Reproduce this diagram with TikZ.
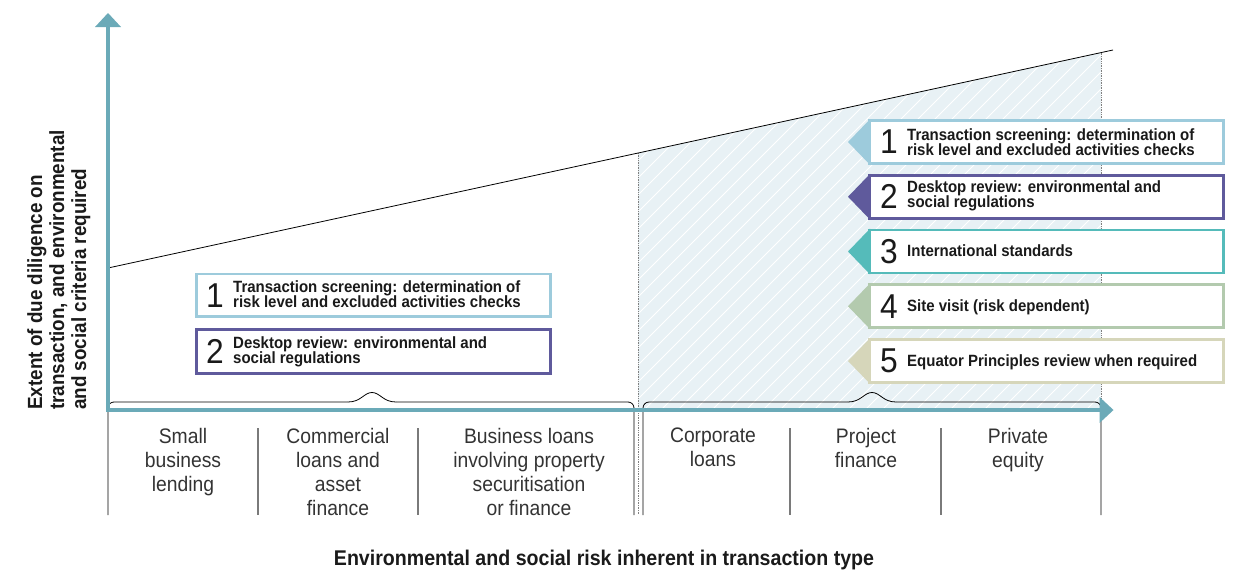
\documentclass[tikz,border=0pt]{standalone}
\usepackage{fontspec}
\setmainfont[FakeStretch=0.92]{Liberation Sans}
\definecolor{axisc}{HTML}{6BAAB8}
\definecolor{hatchbg}{HTML}{E8F1F5}
\definecolor{catc}{HTML}{333333}
\definecolor{sepc}{HTML}{7A7A7A}
\definecolor{cA}{HTML}{9DCBDC}
\definecolor{cB}{HTML}{5F5A9C}
\definecolor{cC}{HTML}{55BBBA}
\definecolor{cD}{HTML}{B3CAAE}
\definecolor{cE}{HTML}{D6D6BA}
\definecolor{txtc}{HTML}{1A1A1A}
\begin{document}
\begin{tikzpicture}[x=1pt,y=-1pt,
  cat/.style={font=\fontsize{21}{24}\selectfont, text=catc, align=center, inner sep=0pt, anchor=north},
  boxtxt/.style={font=\bfseries\fontsize{16.3}{15.3}\selectfont, text=txtc, align=left, inner sep=0pt},
  num/.style={font=\fontsize{34.5}{34.5}\selectfont, text=txtc, inner sep=0pt, anchor=center},
  stepbox/.style={draw=#1, line width=2.6pt, fill=white, minimum width=354pt, minimum height=43pt, inner sep=0pt, outer sep=0pt, anchor=north west},
  bracket/.style={line width=0.8pt, black},
  sepline/.style={line width=1.6pt, sepc},
  axisline/.style={line width=4.5pt, axisc},
]
\useasboundingbox (0,0) rectangle (1252,570);

% shaded region
\begin{scope}
  \clip (638,153) -- (1101,52.6) -- (1101,410) -- (638,410) -- cycle;
  \fill[hatchbg] (600,0) rectangle (1120,420);
  \foreach \i in {0,...,50} { \draw[white, line width=0.9pt] (260+\i*17,420) -- ++(420,-420); }
\end{scope}
\draw[densely dotted, gray, line width=0.7pt] (638,153) -- (638,515);
\draw[densely dotted, gray, line width=0.7pt] (1101,52.6) -- (1101,410);

% diagonal
\coordinate (d0) at (108,268);
\coordinate (d1) at (1113,50);
\draw[line width=0.8pt] (d0) -- (d1);

% brackets
\draw[bracket, rounded corners=6pt] (108,515) -- (108,402) -- (348,402);
\draw[bracket] (348,402) .. controls (361,402) and (364,392.5) .. (372,392.5) .. controls (380,392.5) and (383,402) .. (396,402);
\draw[bracket, rounded corners=6pt] (396,402) -- (634,402) -- (634,515);
\draw[bracket, rounded corners=6pt] (643,515) -- (643,402) -- (848,402);
\draw[bracket] (848,402) .. controls (861,402) and (864,392.5) .. (872,392.5) .. controls (880,392.5) and (883,402) .. (896,402);
\draw[bracket, rounded corners=6pt] (896,402) -- (1101,402) -- (1101,515);

% separators
\draw[sepline] (258,428) -- (258,515);
\draw[sepline] (418,428) -- (418,515);
\draw[sepline] (790,428) -- (790,515);
\draw[sepline] (941,428) -- (941,515);

% axes
\coordinate (o) at (108,410);
\coordinate (ytop) at (108,26);
\coordinate (xend) at (1100,410);
\draw[axisline] (106,410) -- (xend);
\draw[axisline] (108,412) -- (ytop);
\fill[axisc] (108,13) -- (121,27) -- (95,27) -- cycle;
\fill[axisc] (1113.5,410) -- (1099.5,397) -- (1099.5,423) -- cycle;

% category labels
\node[cat] (k1) at (183,428) {Small\\business\\lending};
\node[cat] (k2) at (338,428) {Commercial\\loans and\\asset\\finance};
\node[cat] (k3) at (529,428) {Business loans\\involving property\\securitisation\\or finance};
\node[cat] (k4) at (713,428) {Corporate\\loans};
\node[cat] (k5) at (866,428) {Project\\finance};
\node[cat] (k6) at (1018,428) {Private\\equity};

% left boxes
\node[stepbox=cA, minimum height=42.5pt] (L1) at (196.5,274) {};
\node[stepbox=cB, minimum height=44pt] (L2) at (196.5,329.5) {};
\node[num] (L1n) at (215,296) {1};
\node[num] (L2n) at (215,351) {2};
\node[boxtxt, anchor=west] (L1t) at (233,294) {Transaction screening: determination of\\risk level and excluded activities checks};
\node[boxtxt, anchor=west] (L2t) at (233,352) {Desktop review: environmental and\\social regulations};

% right boxes
\foreach \n/\c in {1/cA,2/cB,3/cC,4/cD,5/cE} {
  \pgfmathsetmacro{\yt}{120.5+54.75*(\n-1)}
  \pgfmathsetmacro{\ym}{\yt+21.5}
  \fill[\c] (848,\ym) -- (870,\yt-1.3) -- (870,\yt+44.3) -- cycle;
  \node[stepbox=\c] (R\n) at (869.5,\yt) {};
  \node[num] (R\n n) at (889,\ym) {\n};
}
\node[boxtxt, anchor=west] (R1t) at (907,142) {Transaction screening: determination of\\risk level and excluded activities checks};
\node[boxtxt, anchor=west] (R2t) at (907,196) {Desktop review: environmental and\\social regulations};
\node[boxtxt, anchor=base west] (R3t) at (907,256.5) {International standards};
\node[boxtxt, anchor=base west] (R4t) at (907,311) {Site visit (risk dependent)};
\node[boxtxt, anchor=base west] (R5t) at (907,366) {Equator Principles review when required};

% axis labels
\node[font=\bfseries\fontsize{20.5}{22}\selectfont, text=txtc, rotate=90, align=left, inner sep=0pt, anchor=north west] (ylab) at (27,410) {Extent of due diligence on\\transaction, and environmental\\and social criteria required};
\node[font=\bfseries\fontsize{21.3}{24}\selectfont, text=txtc, inner sep=0pt, anchor=base] (xlab) at (604,565) {Environmental and social risk inherent in transaction type};
\end{tikzpicture}
\end{document}
